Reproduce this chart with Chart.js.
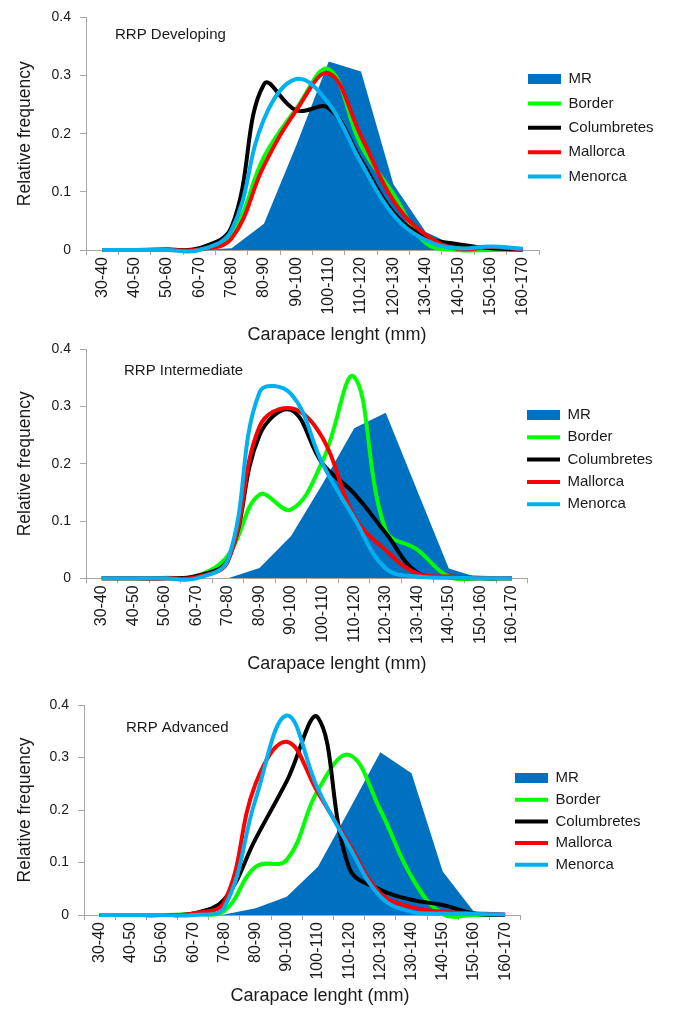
<!DOCTYPE html>
<html>
<head>
<meta charset="utf-8">
<script src="https://cdn.jsdelivr.net/npm/chart.js@4/dist/chart.umd.min.js"></script>
<style>
html, body { margin: 0; padding: 0; background: #ffffff; }
body { width: 674px; height: 1009px; position: relative; overflow: hidden; }
canvas { position: absolute; left: 0; }
</style>
</head>
<body>
<canvas id="c1" width="674" height="346" style="top:0px"></canvas>
<canvas id="c2" width="674" height="345" style="top:330px"></canvas>
<canvas id="c3" width="674" height="327" style="top:680px"></canvas>
<script>
// ---------- data ----------
const categories = ['30-40','40-50','50-60','60-70','70-80','80-90','90-100','100-110','110-120','120-130','130-140','140-150','150-160','160-170'];
const seriesNames = ['MR', 'Border', 'Columbretes', 'Mallorca', 'Menorca'];
const panelTitles = ['RRP Developing', 'RRP Intermediate', 'RRP Advanced'];
const xAxisTitle = 'Carapace lenght (mm)';
const yAxisTitle = 'Relative frequency';

// RRP Developing
const devMR          = [0, 0, 0, 0, 0.003, 0.045, 0.180, 0.324, 0.307, 0.113, 0.031, 0.005, 0, 0];
const devBorder      = [0, 0, 0.001, 0.002, 0.028, 0.160, 0.243, 0.311, 0.180, 0.096, 0.012, 0, 0, 0];
const devColumbretes = [0, 0, 0.001, 0.003, 0.040, 0.285, 0.240, 0.244, 0.155, 0.065, 0.022, 0.010, 0.003, 0.001];
const devMallorca    = [0, 0, 0, 0.001, 0.020, 0.145, 0.240, 0.304, 0.196, 0.085, 0.026, 0.002, 0.005, 0.001];
const devMenorca     = [0, 0, 0, 0, 0.034, 0.225, 0.294, 0.252, 0.150, 0.060, 0.017, 0.003, 0.006, 0.002];

// RRP Intermediate
const intMR          = [0, 0, 0, 0, 0, 0.018, 0.074, 0.165, 0.262, 0.289, 0.153, 0.017, 0, 0];
const intBorder      = [0, 0, 0.001, 0.004, 0.040, 0.146, 0.120, 0.205, 0.352, 0.084, 0.050, 0.003, 0, 0];
const intColumbretes = [0, 0, 0, 0.004, 0.033, 0.250, 0.294, 0.200, 0.148, 0.079, 0.010, 0.002, 0, 0];
const intMallorca    = [0, 0, 0, 0.002, 0.030, 0.265, 0.297, 0.245, 0.108, 0.049, 0.008, 0.003, 0.001, 0];
const intMenorca     = [0, 0, 0, 0, 0.033, 0.325, 0.322, 0.200, 0.105, 0.017, 0.003, 0.001, 0, 0];

// RRP Advanced
const advMR          = [0, 0, 0, 0, 0.001, 0.013, 0.035, 0.092, 0.200, 0.310, 0.270, 0.083, 0.006, 0];
const advBorder      = [0, 0, 0, 0.002, 0.008, 0.092, 0.105, 0.238, 0.305, 0.200, 0.073, 0.002, 0, 0];
const advColumbretes = [0, 0, 0, 0.003, 0.030, 0.145, 0.255, 0.376, 0.090, 0.048, 0.029, 0.019, 0.003, 0];
const advMallorca    = [0, 0, 0, 0.003, 0.025, 0.250, 0.330, 0.233, 0.135, 0.041, 0.015, 0.006, 0.003, 0.001];
const advMenorca     = [0, 0, 0, 0, 0.015, 0.220, 0.380, 0.240, 0.130, 0.035, 0.006, 0.003, 0.002, 0.001];

// ---------- styles ----------
const seriesColors = ['#0070C0', '#00FF00', '#000000', '#FF0000', '#00B0F0'];
const axisColor = '#a6a6a6';
const textColor = '#1a1a1a';
Chart.defaults.font.family = '"Liberation Sans", Arial, Helvetica, sans-serif';
Chart.defaults.color = textColor;

// place the library legend at a given spot (symbol left x, first item centre y)
const legendPlacer = {
  id: 'legendPlacer',
  beforeDraw(chart, args, opts) {
    const lg = chart.legend;
    if (!lg) return;
    const lo = lg.options.labels;
    const pad = lo.padding;
    const fs = (lo.font && lo.font.size) || 12;
    lg.left = opts.x - pad;
    lg.right = chart.width;
    lg.width = lg.right - lg.left;
    lg.top = opts.y - pad - fs / 2;
    lg.bottom = chart.height;
    lg.height = lg.bottom - lg.top;
  }
};

// panel caption inside the plot area
const panelLabel = {
  id: 'panelLabel',
  afterDraw(chart, args, opts) {
    const { ctx, chartArea } = chart;
    ctx.save();
    ctx.font = '15px "Liberation Sans", Arial, Helvetica, sans-serif';
    ctx.fillStyle = textColor;
    ctx.textAlign = 'left';
    ctx.textBaseline = 'middle';
    ctx.fillText(opts.text, chartArea.left + opts.dx, chartArea.top + opts.dy);
    ctx.restore();
  }
};

function lineDataset(label, data, color, order) {
  return {
    label, data, order,
    borderColor: color, backgroundColor: color,
    borderWidth: 4, tension: 0.4, fill: false,
    borderJoinStyle: 'round',
    pointRadius: 0, pointHoverRadius: 0, pointHitRadius: 0,
    pointStyle: 'line',
    pointBorderColor: color, pointBackgroundColor: color, pointBorderWidth: 4,
    clip: 8
  };
}

function makeChart(id, values, title, lay) {
  const [mr, border, col, mal, men] = values;
  return new Chart(document.getElementById(id), {
    type: 'line',
    data: {
      labels: categories,
      datasets: [
        {
          label: seriesNames[0], data: mr, order: 5,
          fill: 'origin', backgroundColor: seriesColors[0], borderColor: 'rgba(0,0,0,0)',
          borderWidth: 0, tension: 0,
          pointRadius: 0, pointHoverRadius: 0, pointHitRadius: 0,
          pointStyle: 'rect', pointBackgroundColor: seriesColors[0],
          pointBorderColor: seriesColors[0], pointBorderWidth: 0,
          clip: 8
        },
        lineDataset(seriesNames[1], border, seriesColors[1], 4),
        lineDataset(seriesNames[2], col, seriesColors[2], 3),
        lineDataset(seriesNames[3], mal, seriesColors[3], 2),
        lineDataset(seriesNames[4], men, seriesColors[4], 1)
      ]
    },
    options: {
      responsive: false,
      maintainAspectRatio: false,
      animation: false,
      events: [],
      elements: { line: { capBezierPoints: false } },
      layout: { padding: { left: lay.padL, right: lay.padR, top: lay.padT, bottom: 0 } },
      scales: {
        x: {
          type: 'category',
          offset: true,
          grid: { offset: true, drawOnChartArea: false, drawTicks: true, tickLength: 5, color: axisColor },
          border: { display: true, color: axisColor, width: 1 },
          ticks: { autoSkip: false, minRotation: 90, maxRotation: 90, padding: 2, color: textColor, font: { size: 16 } },
          afterFit: (s) => { s.height = lay.xH; }
        },
        y: {
          min: 0, max: 0.4,
          ticks: { stepSize: 0.1, padding: 9, color: textColor, font: { size: 14 } },
          grid: { drawOnChartArea: false, drawTicks: true, tickLength: 6, color: axisColor },
          border: { display: true, color: axisColor, width: 1 },
          title: { display: true, text: yAxisTitle, color: textColor, font: { size: 17.5 }, padding: { top: lay.yTitlePad, bottom: 0 } },
          afterFit: (s) => { s.width = lay.yW; }
        }
      },
      plugins: {
        tooltip: { enabled: false },
        title: {
          display: true, position: 'bottom', text: xAxisTitle, color: textColor,
          font: { size: 18, weight: 'normal' }, padding: { top: 0, bottom: 0 }, fullSize: true
        },
        legend: {
          display: true, position: 'right', align: 'start', reverse: true,
          maxWidth: lay.legendW,
          labels: {
            usePointStyle: true, pointStyleWidth: 33, boxHeight: 10,
            padding: lay.legPad, color: textColor, font: { size: 15 }
          }
        },
        legendPlacer: { x: lay.legX, y: lay.legY },
        panelLabel: { text: title, dx: lay.capDx, dy: lay.capDy }
      }
    },
    plugins: [legendPlacer, panelLabel]
  });
}

makeChart('c1', [devMR, devBorder, devColumbretes, devMallorca, devMenorca], panelTitles[0],
  { padL: 0, padR: 0, padT: 15, yW: 86, xH: 74.4, yTitlePad: 14.5, legendW: 135,
    legX: 528, legY: 79, legPad: 9.4, capDx: 29, capDy: 17.5 });

makeChart('c2', [intMR, intBorder, intColumbretes, intMallorca, intMenorca], panelTitles[1],
  { padL: 4, padR: 4.3, padT: 19.3, yW: 82, xH: 75.1, yTitlePad: 10.5, legendW: 142,
    legX: 527, legY: 85, legPad: 7.3, capDx: 38, capDy: 21.2 });

makeChart('c3', [advMR, advBorder, advColumbretes, advMallorca, advMenorca], panelTitles[2],
  { padL: 0, padR: 34, padT: 25, yW: 84, xH: 70.4, yTitlePad: 14.5, legendW: 119.3,
    legX: 515, legY: 98, legPad: 6.7, capDx: 42, capDy: 22.5 });
</script>
</body>
</html>
